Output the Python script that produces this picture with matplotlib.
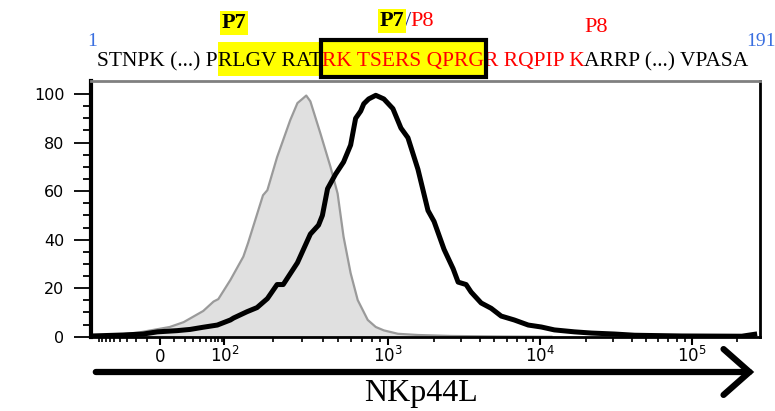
import numpy as np
import matplotlib
matplotlib.use('Agg')
import matplotlib.pyplot as plt
from matplotlib.patches import FancyArrowPatch, Rectangle
from matplotlib.text import Annotation
from matplotlib.ticker import FixedLocator, NullFormatter

# fluorescence intensity (NKp44L) and % of max
ctrl_x = [-116, -36, -16, -7, 7, 19, 45, 67, 80, 109, 131, 140, 173, 184, 211,
          254, 281, 301, 318, 337, 388, 447, 494, 537, 593, 655, 754, 844, 945,
          1164, 1574, 2594, 5538, 11830]
ctrl_y = [0.4, 1.0, 1.8, 2.6, 4.0, 6.0, 10.6, 14.5, 15.5, 23.4, 33, 38.6, 58.3,
          60.4, 74, 89.3, 96.3, 98, 99.4, 97, 83.8, 70, 59, 41.2, 26.2, 15.1,
          6.9, 4.0, 2.6, 1.2, 0.7, 0.3, 0.1, 0]

nkp_x = [-116, -36, -13, -2, 13, 26, 45, 77, 109, 114, 138, 159, 184, 211, 230,
         281, 337, 378, 399, 429, 480, 537, 593, 636, 683, 713, 764, 844, 945,
         1079, 1218, 1354, 1575, 1833, 2009, 2336, 2680, 2889, 3259, 3515, 4091,
         4760, 5538, 6742, 8337, 10150, 12380, 16800, 21770, 30930, 41950,
         85900, 214000, 260000]
nkp_y = [0.3, 0.7, 1.1, 2.0, 2.5, 3.0, 3.9, 4.8, 6.9, 7.7, 10.3, 12.0, 15.7,
         21.5, 21.5, 30.5, 42.3, 46, 50, 61, 67, 72, 79, 90, 93, 96, 98, 99.5,
         98, 94, 86, 82, 69, 52, 47.5, 36, 28, 22.5, 21.5, 18.4, 13.9, 11.7,
         8.5, 6.9, 4.8, 4.0, 2.8, 2.0, 1.5, 1.1, 0.6, 0.3, 0.2, 1.0]

y_ticks = [0, 20, 40, 60, 80, 100]
x_major = [0, 1e2, 1e3, 1e4, 1e5]
x_labels = ['0', r'$10^2$', r'$10^3$', r'$10^4$', r'$10^5$']

# peptide sequence: (text, colour, highlighted)
seq_pieces = [('STNPK (...) P', 'black', False), ('RLGV RAT', 'black', True),
              ('RK TSERS QPRG', 'red', True), ('R RQPIP K', 'red', False),
              ('ARRP (...) VPASA', 'black', False)]

# biexponential-like axis: asinh warped, then stretched to FlowJo decade spacing
W = 20.0
U_ANCH = np.array([-20, 0, np.arcsinh(5), np.arcsinh(50), np.arcsinh(500), np.arcsinh(5000), 20])
P_ANCH = np.array([-3.642, 0, 0.4211, 1.4934, 2.4934, 3.4868, 8.142])


def fwd(x):
    return np.interp(np.arcsinh(np.asarray(x, float) / W), U_ANCH, P_ANCH)


def inv(p):
    return W * np.sinh(np.interp(np.asarray(p, float), P_ANCH, U_ANCH))


plt.rcParams['font.family'] = ['DejaVu Sans']
serif = 'Liberation Serif'

fig = plt.figure(figsize=(7.75, 4.11), dpi=100)
ax = fig.add_axes([91/775, 1 - 336.7/411, (760-91)/775, (336.7-81)/411])
ax.set_xscale('function', functions=(fwd, inv))
ax.set_xlim(-120, 282000)
ax.set_ylim(0, 105.4)

ax.fill_between(ctrl_x, ctrl_y, 0, color='#e0e0e0', lw=0)
ax.plot(ctrl_x, ctrl_y, color='#9a9a9a', lw=1.6)
ax.plot(nkp_x, nkp_y, color='black', lw=3.6, solid_joinstyle='round')

for s in ['left', 'bottom', 'right']:
    ax.spines[s].set_color('black')
ax.spines['left'].set_linewidth(3)
ax.spines['bottom'].set_linewidth(2)
ax.spines['right'].set_linewidth(2)
ax.spines['top'].set_color('#808080')
ax.spines['top'].set_linewidth(2)

ax.set_yticks(y_ticks)
ax.yaxis.set_minor_locator(FixedLocator([v for v in range(0, 101, 5) if v % 20]))
ax.tick_params(axis='y', which='major', length=12, width=1.3, pad=7, labelsize=11.5)
ax.tick_params(axis='y', which='minor', length=6, width=1.3)

minors = [-v for v in range(10, 100, 10)] + list(range(10, 100, 10))
for d in [100, 1000, 10000, 100000]:
    minors += [k * d for k in range(2, 10) if k * d < 282000]
ax.xaxis.set_major_locator(FixedLocator(x_major))
ax.xaxis.set_minor_locator(FixedLocator(minors))
ax.xaxis.set_minor_formatter(NullFormatter())
ax.set_xticklabels(x_labels, fontsize=12)
ax.tick_params(axis='x', which='major', length=6, width=1.5, pad=12)
ax.tick_params(axis='x', which='minor', length=3.5, width=1.2)
for lbl in ax.get_xticklabels():
    lbl.set_va('baseline')

# arrow and axis name under the plot
fig.add_artist(FancyArrowPatch((93/775, 1 - 372/411), (757/775, 1 - 372/411),
                               transform=fig.transFigure,
                               arrowstyle='->,head_length=0.85,head_width=0.75',
                               lw=4.5, color='black', mutation_scale=22, joinstyle='miter'))
fig.text(421/775, 1 - 393/411, 'NKp44L', family=serif, fontsize=23,
         ha='center', va='center')

# peptide sequence above the plot, pieces chained left to right
fs = 15.5
prev = fig.text(97/775, 1 - 71/411, '', family=serif, fontsize=fs, va='baseline')
placed = []
for txt, col, hl in seq_pieces:
    prev = Annotation(txt, xy=(1, 0), xycoords=prev, va='bottom', ha='left', family=serif,
                      fontsize=fs, color=col, annotation_clip=False, zorder=5)
    fig.add_artist(prev)
    placed.append((prev, hl, txt))
fig.canvas.draw()
for t, hl, txt in placed:
    bb = t.get_window_extent()
    if hl:
        fig.add_artist(Rectangle((bb.x0, 411 - 76), bb.x1 - bb.x0, 34, transform=None,
                                 facecolor='#ffff00', edgecolor='none', zorder=1))
    if txt.startswith('RK'):
        fig.add_artist(Rectangle((bb.x0 - 1, 411 - 77), bb.x1 - bb.x0 + 3, 37, transform=None,
                                 fill=False, edgecolor='black', lw=3, zorder=6))

fig.text(92/775, 1 - 42/411, '1', family=serif, fontsize=14, color='#3a6fe0', ha='center', va='center')
fig.text(761/775, 1 - 41/411, '191', family=serif, fontsize=14, color='#3a6fe0', ha='center', va='center')

ylab = dict(facecolor='#ffff00', edgecolor='none', pad=1.2)
fig.text(234/775, 1 - 23/411, 'P7', family=serif, fontsize=16, weight='bold', ha='center',
         va='center', bbox=ylab)
p7 = fig.text(380/775, 1 - 21/411, 'P7', family=serif, fontsize=16, weight='bold', ha='left',
              va='center', bbox=ylab)
sl = Annotation('/', xy=(1, 0), xycoords=p7, va='bottom', family=serif, fontsize=16,
                color='#223388', annotation_clip=False)
fig.add_artist(sl)
fig.add_artist(Annotation('P8', xy=(1, 0), xycoords=sl, va='bottom', family=serif, fontsize=16,
                          color='red', annotation_clip=False))
fig.text(596/775, 1 - 28/411, 'P8', family=serif, fontsize=16, color='red', ha='center', va='center')

fig.savefig('out.png', dpi=100)
